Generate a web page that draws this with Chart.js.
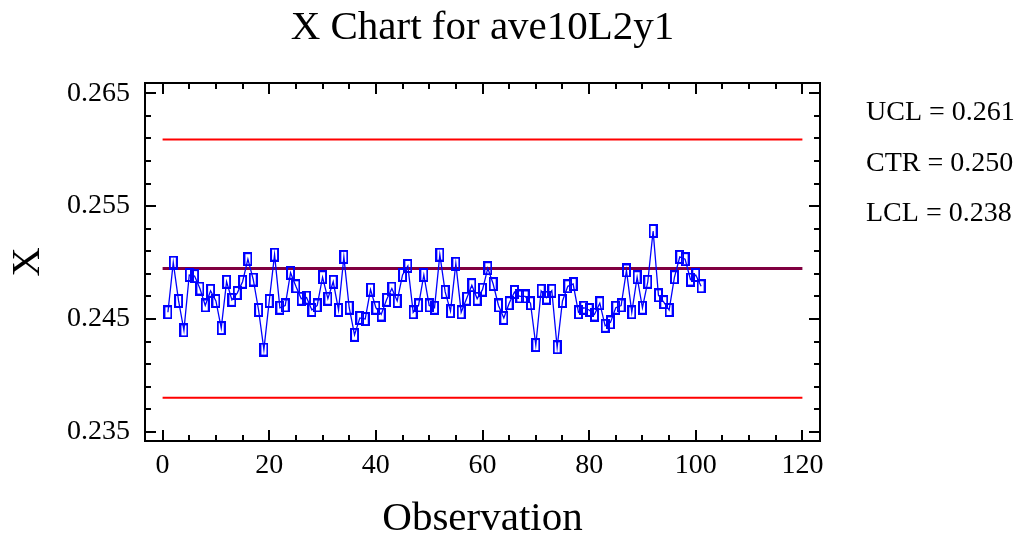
<!DOCTYPE html>
<html>
<head>
<meta charset="utf-8">
<title>X Chart for ave10L2y1</title>
<script src="https://cdn.jsdelivr.net/npm/chart.js@4.4.1/dist/chart.umd.min.js"></script>
<style>
  html, body { margin: 0; padding: 0; background: #fff; }
  canvas { display: block; }
</style>
</head>
<body>
<canvas id="xChart" width="1025" height="536"></canvas>
<script>
// subgroup means (observation 1..101)
const xbar = [
  0.2456, 0.2500, 0.2466, 0.2440, 0.2489, 0.2488, 0.2477, 0.2462, 0.2475, 0.2466,
  0.2442, 0.2483, 0.2467, 0.2473, 0.2483, 0.2503, 0.2485, 0.2458, 0.2423, 0.2466,
  0.2507, 0.2460, 0.2462, 0.2491, 0.2479, 0.2468, 0.2469, 0.2458, 0.2462, 0.2487,
  0.2468, 0.2483, 0.2458, 0.2505, 0.2460, 0.2436, 0.2451, 0.2450, 0.2476, 0.2460,
  0.2454, 0.2467, 0.2477, 0.2466, 0.2489, 0.2497, 0.2456, 0.2462, 0.2489, 0.2462,
  0.2460, 0.2507, 0.2474, 0.2457, 0.2499, 0.2456, 0.2468, 0.2480, 0.2468, 0.2476,
  0.2495, 0.2481, 0.2462, 0.2451, 0.2464, 0.2474, 0.2470, 0.2470, 0.2464, 0.2427,
  0.2475, 0.2469, 0.2475, 0.2425, 0.2466, 0.2479, 0.2481, 0.2456, 0.2460, 0.2458,
  0.2454, 0.2464, 0.2444, 0.2447, 0.2460, 0.2462, 0.2493, 0.2456, 0.2487, 0.2460,
  0.2483, 0.2528, 0.2471, 0.2465, 0.2458, 0.2487, 0.2505, 0.2503, 0.2485, 0.2489,
  0.2479
];
const observations = xbar.map((v, i) => i + 1);

// control limits
const ucl = 0.2609;
const ctr = 0.24947;
const lcl = 0.23804;
const limitSpan = [0, 120];
const limitLabels = ['UCL = 0.261', 'CTR = 0.250', 'LCL = 0.238'];

// axis ticks
const xMajorTicks = [0, 20, 40, 60, 80, 100, 120];
const yMajorTicks = [0.235, 0.245, 0.255, 0.265];
const xMinorStep = 5;
const yMinorStep = 0.002;

const serif = "'Liberation Serif', 'Times New Roman', serif";

// majors + minors (minors only get a short tick and no label)
const xTicks = [];
for (let v = xMajorTicks[0]; v <= xMajorTicks[xMajorTicks.length - 1]; v += xMinorStep) xTicks.push(v);
const yTicks = [];
for (let i = 0; ; i++) {
    const v = Math.round((yMajorTicks[0] + i * yMinorStep) * 1e6) / 1e6;
    if (v > yMajorTicks[yMajorTicks.length - 1] + 1e-9) break;
    yTicks.push(v);
}
const isMajor = (list, v) => list.some(m => Math.abs(m - v) < 1e-9);

// hollow tall rectangle marker like the original
const marker = document.createElement('canvas');
marker.width = 9;
marker.height = 14;
{
    const m = marker.getContext('2d');
    m.strokeStyle = '#0000ff';
    m.lineWidth = 2;
    m.strokeRect(1, 1, 7, 12);
}

// box frame with inward ticks on all four sides
const frameTicks = {
    id: 'frameTicks',
    afterDraw(chart) {
        const { ctx, chartArea: a, scales: { x, y } } = chart;
        ctx.save();
        ctx.strokeStyle = '#000';
        ctx.lineWidth = 2;
        ctx.strokeRect(a.left, a.top, a.right - a.left, a.bottom - a.top);
        ctx.beginPath();
        x.ticks.forEach(t => {
            const px = Math.round(x.getPixelForValue(t.value));
            const len = isMajor(xMajorTicks, t.value) ? 11 : 6;
            ctx.moveTo(px, a.bottom); ctx.lineTo(px, a.bottom - len);
            ctx.moveTo(px, a.top); ctx.lineTo(px, a.top + len);
        });
        y.ticks.forEach(t => {
            const py = Math.round(y.getPixelForValue(t.value));
            const len = isMajor(yMajorTicks, t.value) ? 11 : 6;
            ctx.moveTo(a.left, py); ctx.lineTo(a.left + len, py);
            ctx.moveTo(a.right, py); ctx.lineTo(a.right - len, py);
        });
        ctx.stroke();
        ctx.restore();
    }
};

// UCL / CTR / LCL text to the right of the plot
const limitText = {
    id: 'limitText',
    afterDraw(chart) {
        const { ctx, chartArea: a } = chart;
        ctx.save();
        ctx.font = '28px ' + serif;
        ctx.fillStyle = '#000';
        ctx.textAlign = 'left';
        ctx.textBaseline = 'middle';
        limitLabels.forEach((txt, i) => {
            ctx.fillText(txt, a.right + 46, 113 + i * 50.5);
        });
        ctx.restore();
    }
};

const hLine = (v) => limitSpan.map(x => ({ x: x, y: v }));

const ctx = document.getElementById('xChart').getContext('2d');
new Chart(ctx, {
    type: 'line',
    data: {
        datasets: [
            {
                label: 'X',
                data: observations.map((o, i) => ({ x: o, y: xbar[i] })),
                borderColor: '#0000ff',
                borderWidth: 1.3,
                pointStyle: marker,
                pointRadius: 5,
                tension: 0,
                fill: false
            },
            { label: 'UCL', data: hLine(ucl), borderColor: '#ff0000', borderWidth: 2, pointRadius: 0 },
            { label: 'CTR', data: hLine(ctr), borderColor: '#800040', borderWidth: 3, pointRadius: 0 },
            { label: 'LCL', data: hLine(lcl), borderColor: '#ff0000', borderWidth: 2, pointRadius: 0 }
        ]
    },
    options: {
        responsive: false,
        animation: false,
        events: [],
        layout: { padding: { left: 0, right: 205, top: 0, bottom: 0 } },
        plugins: {
            legend: { display: false },
            tooltip: { enabled: false },
            title: {
                display: true,
                fullSize: false,
                text: 'X Chart for ave10L2y1',
                color: '#000',
                font: { family: serif, size: 41, weight: 'normal', lineHeight: 1.2 },
                padding: { top: 4, bottom: 29.8 }
            }
        },
        scales: {
            x: {
                type: 'linear',
                min: -3.3,
                max: 123.3,
                afterBuildTicks: (s) => { s.ticks = xTicks.map(v => ({ value: v })); },
                afterFit: (s) => { s.height = 95; },
                grid: { display: false, drawTicks: false },
                border: { display: false },
                ticks: {
                    autoSkip: false,
                    maxRotation: 0,
                    padding: 8,
                    color: '#000',
                    font: { family: serif, size: 28 },
                    callback: (v) => isMajor(xMajorTicks, v) ? String(v) : ''
                },
                title: {
                    display: true,
                    text: 'Observation',
                    color: '#000',
                    font: { family: serif, size: 41, lineHeight: 0.8 },
                    padding: { top: 0, bottom: 0 }
                }
            },
            y: {
                type: 'linear',
                min: 0.2342,
                max: 0.2659,
                afterBuildTicks: (s) => { s.ticks = yTicks.map(v => ({ value: v })); },
                afterFit: (s) => { s.width = 145; },
                grid: { display: false, drawTicks: false },
                border: { display: false },
                ticks: {
                    autoSkip: false,
                    padding: 15,
                    color: '#000',
                    font: { family: serif, size: 28 },
                    callback: (v) => isMajor(yMajorTicks, v) ? v.toFixed(3) : ''
                },
                title: {
                    display: true,
                    text: 'X',
                    color: '#000',
                    font: { family: serif, size: 41, lineHeight: 1.2 },
                    padding: { top: 4, bottom: 0 }
                }
            }
        }
    },
    plugins: [frameTicks, limitText]
});
</script>
</body>
</html>
